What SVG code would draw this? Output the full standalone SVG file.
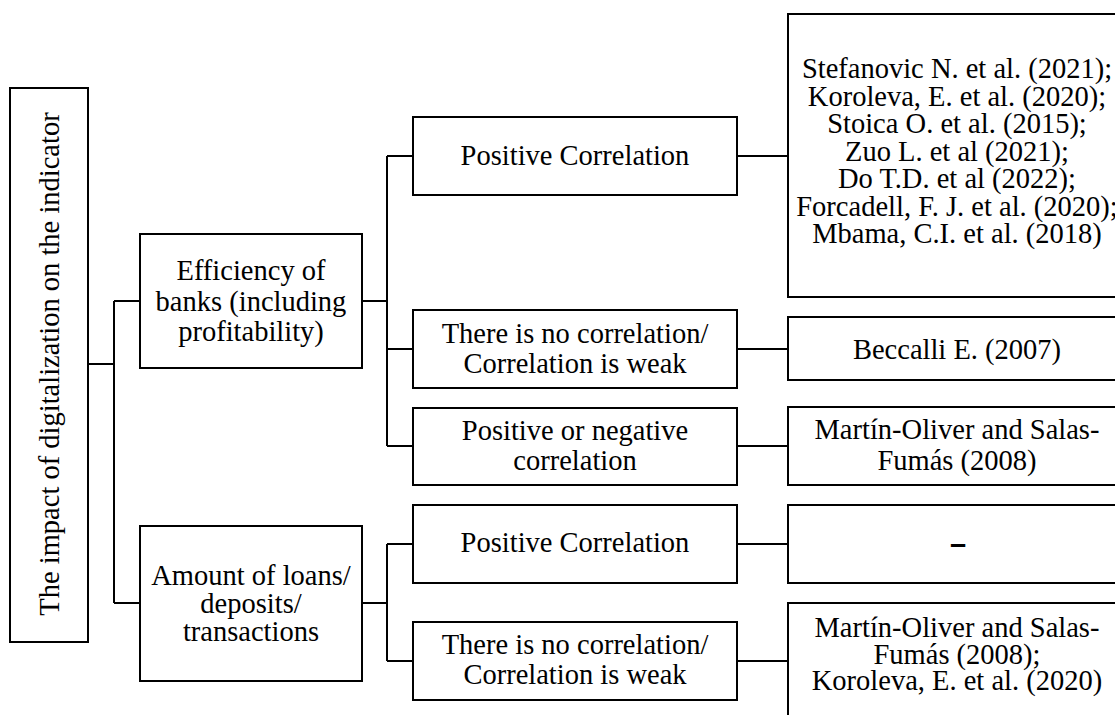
<svg xmlns="http://www.w3.org/2000/svg" width="1115" height="715" viewBox="0 0 1115 715">
<style>
  .box { fill: #ffffff; stroke: #000000; stroke-width: 2; }
  .t { font-family: "Liberation Serif", "Times New Roman", serif; font-size: 28.5px; fill: #000000; text-anchor: middle; }
  .c { fill: none; stroke: #000000; stroke-width: 2; }
</style>
<rect x="0" y="0" width="1115" height="715" fill="#ffffff"/>

<g id="connectors">
  <path class="c" d="M88,364 H114 M114,301 V603 M114,301 H140 M114,603 H140"/>
  <path class="c" d="M362,301 H387 M387,156 V446 M387,156 H413 M387,349 H413 M387,446 H413"/>
  <path class="c" d="M362,603 H387 M387,544 V661 M387,544 H413 M387,661 H413"/>
  <path class="c" d="M737,156 H788 M737,349 H788 M737,446 H788 M737,544 H788 M737,661 H788"/>
</g>

<g id="root">
  <rect class="box" x="10" y="88" width="78" height="554"/>
  <text class="t" transform="translate(59,364) rotate(-90)">The impact of digitalization on the indicator</text>
</g>

<g id="efficiency">
  <rect class="box" x="140" y="234" width="222" height="134"/>
  <text class="t" x="251" y="280">Efficiency of</text>
  <text class="t" x="251" y="311">banks (including</text>
  <text class="t" x="251" y="341">profitability)</text>
</g>

<g id="amount">
  <rect class="box" x="140" y="526" width="222" height="155"/>
  <text class="t" x="251" y="585">Amount of loans/</text>
  <text class="t" x="251" y="613">deposits/</text>
  <text class="t" x="251" y="641">transactions</text>
</g>

<g id="eff-positive">
  <rect class="box" x="413" y="117" width="324" height="78"/>
  <text class="t" x="575" y="165">Positive Correlation</text>
</g>

<g id="eff-none">
  <rect class="box" x="413" y="310" width="324" height="78"/>
  <text class="t" x="575" y="342.5">There is no correlation/</text>
  <text class="t" x="575" y="372.5">Correlation is weak</text>
</g>

<g id="eff-posneg">
  <rect class="box" x="413" y="408" width="324" height="77"/>
  <text class="t" x="575" y="440">Positive or negative</text>
  <text class="t" x="575" y="470">correlation</text>
</g>

<g id="amt-positive">
  <rect class="box" x="413" y="505" width="324" height="78"/>
  <text class="t" x="575" y="552">Positive Correlation</text>
</g>

<g id="amt-none">
  <rect class="box" x="413" y="622" width="324" height="78"/>
  <text class="t" x="575" y="654">There is no correlation/</text>
  <text class="t" x="575" y="684">Correlation is weak</text>
</g>

<g id="ref-positive">
  <rect class="box" x="788" y="14" width="338" height="283"/>
  <text class="t" x="957" y="78">Stefanovic N. et al. (2021);</text>
  <text class="t" x="957" y="105.5">Koroleva, E. et al. (2020);</text>
  <text class="t" x="957" y="133">Stoica O. et al. (2015);</text>
  <text class="t" x="957" y="160.5">Zuo L. et al (2021);</text>
  <text class="t" x="957" y="188">Do T.D. et al (2022);</text>
  <text class="t" x="957" y="215.5">Forcadell, F. J. et al. (2020);</text>
  <text class="t" x="957" y="243">Mbama, C.I. et al. (2018)</text>
</g>

<g id="ref-none">
  <rect class="box" x="788" y="317" width="338" height="63"/>
  <text class="t" x="957" y="359">Beccalli E. (2007)</text>
</g>

<g id="ref-posneg">
  <rect class="box" x="788" y="407" width="338" height="78"/>
  <text class="t" x="957" y="439">Martín-Oliver and Salas-</text>
  <text class="t" x="957" y="470">Fumás (2008)</text>
</g>

<g id="ref-amt-positive">
  <rect class="box" x="788" y="505" width="338" height="78"/>
  <text class="t" x="958" y="554" style="font-family:'Liberation Sans', Arial, sans-serif; font-weight:bold; font-size:29px;">–</text>
</g>

<g id="ref-amt-none">
  <rect class="box" x="788" y="603" width="338" height="120"/>
  <text class="t" x="957" y="637">Martín-Oliver and Salas-</text>
  <text class="t" x="957" y="664">Fumás (2008);</text>
  <text class="t" x="957" y="690">Koroleva, E. et al. (2020)</text>
</g>
</svg>
